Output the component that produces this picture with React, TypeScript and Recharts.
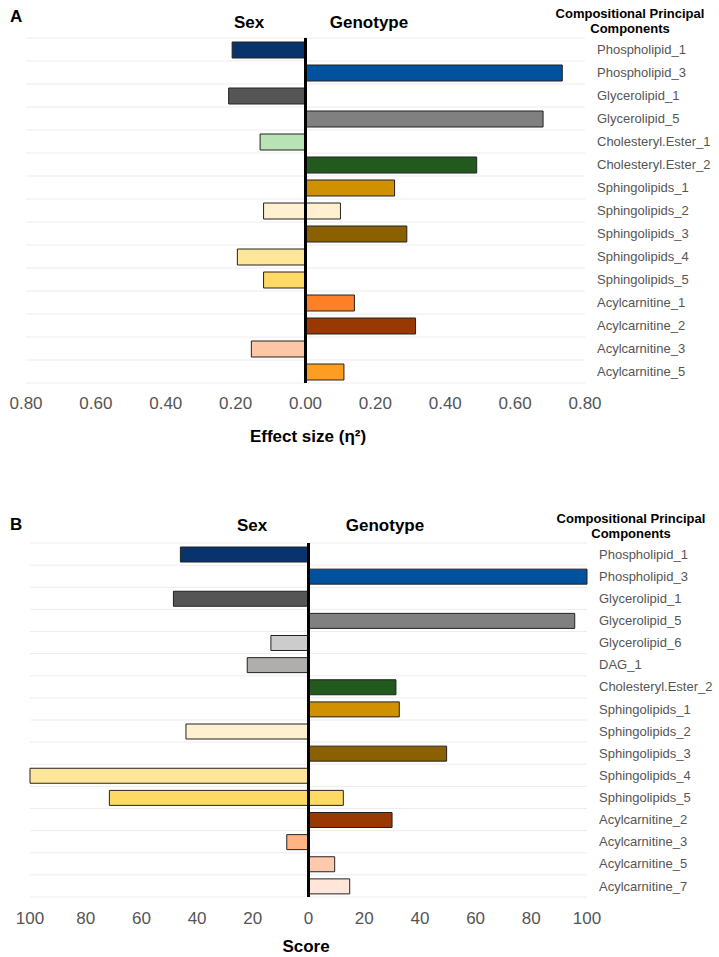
import { BarChart, Bar, XAxis, YAxis, CartesianGrid, ReferenceLine, Cell } from 'recharts';

// Panel A: effect sizes (eta squared)
const namesA = [
  'Phospholipid_1', 'Phospholipid_3', 'Glycerolipid_1', 'Glycerolipid_5',
  'Cholesteryl.Ester_1', 'Cholesteryl.Ester_2', 'Sphingolipids_1', 'Sphingolipids_2',
  'Sphingolipids_3', 'Sphingolipids_4', 'Sphingolipids_5', 'Acylcarnitine_1',
  'Acylcarnitine_2', 'Acylcarnitine_3', 'Acylcarnitine_5',
];
const sexA = [0.21, null, 0.22, null, 0.13, null, null, 0.12, null, 0.195, 0.12, null, null, 0.155, null];
const genoA = [null, 0.735, null, 0.68, null, 0.49, 0.255, 0.10, 0.29, null, null, 0.14, 0.315, null, 0.11];
const colorsA = [
  '#08336b', '#00519e', '#555555', '#808080', '#b9e2b5', '#215a1c', '#d09100', '#fff1cf',
  '#8a6000', '#ffe699', '#ffd966', '#ff7f27', '#993800', '#fdc6a4', '#ff9d22',
];
const ticksA = [-0.8, -0.6, -0.4, -0.2, 0, 0.2, 0.4, 0.6, 0.8];

// Panel B: scores
const namesB = [
  'Phospholipid_1', 'Phospholipid_3', 'Glycerolipid_1', 'Glycerolipid_5',
  'Glycerolipid_6', 'DAG_1', 'Cholesteryl.Ester_2', 'Sphingolipids_1',
  'Sphingolipids_2', 'Sphingolipids_3', 'Sphingolipids_4', 'Sphingolipids_5',
  'Acylcarnitine_2', 'Acylcarnitine_3', 'Acylcarnitine_5', 'Acylcarnitine_7',
];
const sexB = [46, null, 48.5, null, 13.5, 22, null, null, 44, null, 100, 71.5, null, 7.8, null, null];
const genoB = [null, 100, null, 95.6, null, null, 31.4, 32.6, null, 49.6, null, 12.5, 30, null, 9.4, 14.8];
const colorsB = [
  '#08336b', '#00519e', '#555555', '#808080', '#cccccc', '#b0adad', '#215a1c', '#d09100',
  '#fff1cf', '#8a6000', '#ffe699', '#ffd966', '#993800', '#ffb482', '#ffc9ae', '#ffe6d9',
];
const ticksB = [-100, -80, -60, -40, -20, 0, 20, 40, 60, 80, 100];

const FONT = '"Liberation Sans", Arial, Helvetica, sans-serif';

function buildRows(names: string[], sex: (number | null)[], geno: (number | null)[]) {
  return names.map((name, i) => ({
    name,
    sex: sex[i] == null ? null : -(sex[i] as number),
    genotype: geno[i],
  }));
}

// grid lines sit between rows, not through their centres
function rowLines(n: number) {
  return ({ offset }: any) => {
    const out: number[] = [];
    for (let i = 0; i <= n; i++) out.push(offset.top + (i * offset.height) / n);
    return out;
  };
}

interface PanelProps {
  names: string[];
  sex: (number | null)[];
  geno: (number | null)[];
  colors: string[];
  ticks: number[];
  fmt: (v: number) => string;
  height: number;
  margin: { top: number; right: number; bottom: number; left: number };
  yWidth: number;
  xHeight: number;
  barSize: number;
  tickMargin: number;
}

function Panel(p: PanelProps) {
  const data = buildRows(p.names, p.sex, p.geno);
  return (
    <BarChart
      width={719}
      height={p.height}
      data={data}
      layout="vertical"
      stackOffset="sign"
      margin={p.margin}
    >
      <CartesianGrid
        vertical={false}
        stroke="#ececec"
        horizontalCoordinatesGenerator={rowLines(p.names.length)}
      />
      <XAxis
        type="number"
        domain={[p.ticks[0], p.ticks[p.ticks.length - 1]]}
        ticks={p.ticks}
        tickFormatter={p.fmt}
        axisLine={false}
        tickLine={false}
        tickMargin={p.tickMargin}
        height={p.xHeight}
        tick={{ fill: '#555', fontSize: 17 }}
      />
      <YAxis
        type="category"
        dataKey="name"
        orientation="right"
        width={p.yWidth}
        interval={0}
        axisLine={false}
        tickLine={false}
        tickMargin={6}
        tick={{ fill: '#555', fontSize: 13 }}
      />
      <Bar dataKey="sex" stackId="s" barSize={p.barSize} stroke="#222" strokeWidth={1} isAnimationActive={false}>
        {data.map((d, i) => (
          <Cell key={d.name} fill={p.colors[i]} />
        ))}
      </Bar>
      <Bar dataKey="genotype" stackId="s" barSize={p.barSize} stroke="#222" strokeWidth={1} isAnimationActive={false}>
        {data.map((d, i) => (
          <Cell key={d.name} fill={p.colors[i]} />
        ))}
      </Bar>
      <ReferenceLine x={0} stroke="#000" strokeWidth={3} />
    </BarChart>
  );
}

export default function App() {
  return (
    <div style={{ position: 'absolute', left: 0, top: 0, width: 719, height: 957, background: '#fff', fontFamily: FONT }}>
      <div style={{ position: 'absolute', left: 0, top: 0 }}>
        <Panel
          names={namesA}
          sex={sexA}
          geno={genoA}
          colors={colorsA}
          ticks={ticksA}
          fmt={(v) => Math.abs(v).toFixed(2)}
          height={460}
          margin={{ top: 38, right: 0, bottom: 0, left: 26 }}
          yWidth={134}
          xHeight={77}
          barSize={16}
          tickMargin={8}
        />
      </div>
      <div style={{ position: 'absolute', left: 0, top: 480 }}>
        <Panel
          names={namesB}
          sex={sexB}
          geno={genoB}
          colors={colorsB}
          ticks={ticksB}
          fmt={(v) => String(Math.abs(v))}
          height={477}
          margin={{ top: 63, right: 0, bottom: 0, left: 30 }}
          yWidth={132}
          xHeight={60}
          barSize={15}
          tickMargin={9}
        />
      </div>
      <svg width={719} height={957} style={{ position: 'absolute', left: 0, top: 0, pointerEvents: 'none' }}>
        <g fontFamily={FONT} fontWeight="bold" fill="#000">
          <text x={10} y={22} fontSize={17}>A</text>
          <text x={249} y={28} fontSize={17} textAnchor="middle">Sex</text>
          <text x={369} y={28} fontSize={17} textAnchor="middle">Genotype</text>
          <text x={630} y={18} fontSize={13} textAnchor="middle">Compositional Principal</text>
          <text x={630} y={33} fontSize={13} textAnchor="middle">Components</text>
          <text x={308} y={442} fontSize={17} textAnchor="middle">Effect size (η²)</text>

          <text x={10} y={530} fontSize={17}>B</text>
          <text x={252} y={531} fontSize={17} textAnchor="middle">Sex</text>
          <text x={385} y={531} fontSize={17} textAnchor="middle">Genotype</text>
          <text x={631} y={523} fontSize={13} textAnchor="middle">Compositional Principal</text>
          <text x={631} y={538} fontSize={13} textAnchor="middle">Components</text>
          <text x={306} y={952} fontSize={17} textAnchor="middle">Score</text>
        </g>
      </svg>
    </div>
  );
}
